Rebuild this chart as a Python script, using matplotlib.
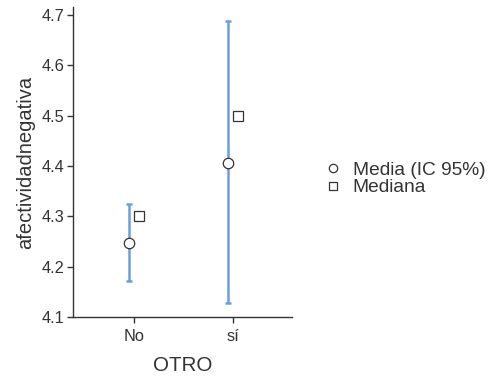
import numpy as np
import matplotlib.pyplot as plt
from matplotlib.lines import Line2D

plt.rcParams['font.family'] = ['Liberation Sans', 'DejaVu Sans']

# datos por grupo
grupos = ['No', 'sí']
media = [4.247, 4.407]
ic_inf = [4.172, 4.127]
ic_sup = [4.325, 4.688]
mediana = [4.30, 4.50]

txt = '#333333'
azul = '#6a9ee0'

fig = plt.figure(figsize=(4.98, 3.81), dpi=100)
ax = fig.add_axes([0.1466, 0.168, 0.4394, 0.8136])

x = np.arange(1, len(grupos) + 1)
err = [np.array(media) - np.array(ic_inf), np.array(ic_sup) - np.array(media)]
ax.errorbar(x - 0.045, media, yerr=err, fmt='none', ecolor=azul, elinewidth=1.8,
            capsize=2, capthick=1.8, zorder=2)
ax.plot(x - 0.045, media, 'o', ms=7.5, mfc='white', mec='#333333', mew=0.9, zorder=3)
ax.plot(x + 0.05, mediana, 's', ms=6.5, mfc='white', mec='#333333', mew=0.9, zorder=3)

ax.set_xlim(0.384, 2.6)
ax.set_ylim(4.1, 4.716)
ax.set_xticks(x)
ax.set_xticklabels(grupos)
ax.set_yticks([4.1, 4.2, 4.3, 4.4, 4.5, 4.6, 4.7])
ax.set_yticklabels(['4.1', '4.2', '4.3', '4.4', '4.5', '4.6', '4.7'])

for s in ['top', 'right']:
    ax.spines[s].set_visible(False)
for s in ['left', 'bottom']:
    ax.spines[s].set_color('#333333')
    ax.spines[s].set_linewidth(1.0)
ax.tick_params(colors=txt, labelsize=11.8, length=4, width=1.0, pad=2)
ax.tick_params(axis='x', pad=5)

ax.set_xlabel('OTRO', fontsize=14.8, color=txt, labelpad=8)
ax.set_ylabel('afectividadnegativa', fontsize=14.5, color=txt, labelpad=5)

handles = [
    Line2D([], [], ls='none', marker='o', ms=6, mfc='white', mec='#333333', mew=0.9),
    Line2D([], [], ls='none', marker='s', ms=5.5, mfc='white', mec='#333333', mew=0.9),
]
fig.legend(handles, ['Media (IC 95%)', 'Mediana'], loc='center left',
           bbox_to_anchor=(0.61, 0.53), frameon=False, fontsize=13.8,
           labelcolor=txt, handletextpad=0.45, labelspacing=0.0, handlelength=1.2)

fig.savefig('out.png', dpi=100)
